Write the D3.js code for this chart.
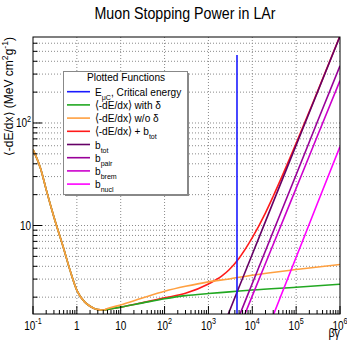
<!DOCTYPE html>
<html>
<head>
<meta charset="utf-8">
<script src="https://cdn.jsdelivr.net/npm/d3@7"></script>
<style>
  body { margin: 0; background: #fff; }
  svg { display: block; font-family: "Liberation Sans", Arial, Helvetica, sans-serif; }
</style>
</head>
<body>
<div id="chart"></div>
<script>
// values
const bgBethe = [0.1, 0.15, 0.2, 0.3, 0.5, 0.7, 1, 1.5, 2, 3, 4, 5, 10, 30, 100, 300, 1e3, 3e3, 1e4, 1e5, 1e6];
const dedxNoDelta = [55, 35.6, 22.4, 12.1, 5.97, 3.65, 2.33, 1.80, 1.63, 1.51, 1.50, 1.55, 1.68, 1.95, 2.28, 2.55, 2.82, 3.01, 3.27, 3.72, 4.17];
const dedxDelta = [55, 35.6, 22.4, 12.1, 5.97, 3.65, 2.33, 1.80, 1.63, 1.51, 1.50, 1.52, 1.60, 1.75, 1.93, 2.07, 2.17, 2.25, 2.35, 2.50, 2.67];

const bgTotal = [0.1, 0.15, 0.2, 0.3, 0.5, 0.7, 1, 1.5, 2, 3, 4, 5, 10, 30, 100, 300, 1e3, 2e3, 3e3, 5e3, 1e4, 2e4, 3e4, 1e5, 3e5, 1e6];
const dedxTotal = [55, 35.6, 22.4, 12.1, 5.97, 3.65, 2.33, 1.80, 1.63, 1.51, 1.50, 1.52, 1.60, 1.76, 1.97, 2.18, 2.69, 3.2, 3.72, 4.80, 7.6, 13.3, 19.3, 63.2, 198, 706];

const bgTot = [2e3, 5e3, 1e4, 3e4, 1e5, 3e5, 1e6];
const bTot = [0.94, 2.51, 5.24, 16.9, 60.7, 195, 703];
const bgPair = [3e3, 5e3, 1e4, 3e4, 1e5, 3e5, 1e6];
const bPair = [0.757, 1.30, 2.72, 8.73, 31.3, 101, 361];
const bgBrem = [3e3, 5e3, 1e4, 3e4, 1e5, 3e5, 1e6];
const bBrem = [0.578, 0.99, 2.06, 6.52, 23.1, 73.3, 259];
const bgNucl = [2e4, 3e4, 1e5, 3e5, 1e6];
const bNucl = [0.86, 1.33, 4.90, 16.1, 59.0];

const ecBg = 4480;
const ecRange = [1, 460];

const xMajor = [0.1, 1, 10, 1e2, 1e3, 1e4, 1e5, 1e6];
const xTickLabels = ["10^{-1}", "1", "10", "10^{2}", "10^{3}", "10^{4}", "10^{5}", "10^{6}"];
const yMajor = [10, 100];
const yTickLabels = ["10", "10^{2}"];

const legendLabels = ["E_{μC}, Critical energy", "⟨-dE/dx⟩ with δ", "⟨-dE/dx⟩ w/o δ", "⟨-dE/dx⟩ + b_{tot}",
                      "b_{tot}", "b_{pair}", "b_{brem}", "b_{nucl}"];
const legendColors = ["#1a1aff", "#22a822", "#ffa040", "#ff1a1a", "#660066", "#990099", "#cc00cc", "#ff00ff"];

const W = 347, H = 340;
const frame = {left: 33, right: 340, top: 37, bottom: 314};
const SQ = 0.88; // horizontal squeeze of text in the picture

const svg = d3.select("#chart").append("svg")
    .attr("width", W)
    .attr("height", H);

const x = d3.scaleLog().domain([0.1, 1e6]).range([frame.left, frame.right]);
const y = d3.scaleLog().domain([1.37, 690]).range([frame.bottom, frame.top]);

// write text with _{sub} and ^{sup} parts
function rich(textSel, str, size) {
    let cur = 0;
    str.split(/([_^]\{[^}]*\})/).filter(s => s.length).forEach(p => {
        let off = 0, fs = size, t = p;
        if (p[0] === "_") { off = size * 0.35; fs = size * 0.7; t = p.slice(2, -1); }
        else if (p[0] === "^") { off = -size * 0.45; fs = size * 0.72; t = p.slice(2, -1); }
        textSel.append("tspan").attr("dy", off - cur).style("font-size", fs + "px").text(t);
        cur = off;
    });
}

function label(px, py, str, size, anchor, sq) {
    const g = svg.append("g").attr("transform", `translate(${px},${py}) scale(${sq},1)`);
    const t = g.append("text").attr("text-anchor", anchor).style("font-size", size + "px").attr("fill", "#000");
    rich(t, str, size);
    return t;
}

// minor ticks
const xMinor = [];
xMajor.slice(0, -1).forEach(d => { for (let k = 2; k <= 9; k++) xMinor.push(d * k); });
const yTicks = y.ticks();

// grid
svg.append("g").selectAll("line.gy")
    .data(yTicks)
    .enter()
    .append("line")
    .attr("x1", frame.left).attr("x2", frame.right)
    .attr("y1", d => y(d)).attr("y2", d => y(d))
    .attr("stroke", "#8a8a8a")
    .attr("stroke-width", 1)
    .attr("stroke-dasharray", "1,2");

svg.append("g").selectAll("line.gx")
    .data(xMajor.slice(1, -1))
    .enter()
    .append("line")
    .attr("x1", d => x(d)).attr("x2", d => x(d))
    .attr("y1", frame.top).attr("y2", frame.bottom)
    .attr("stroke", "#8a8a8a")
    .attr("stroke-width", 1)
    .attr("stroke-dasharray", "1,2");

// curves
svg.append("clipPath").attr("id", "clip")
    .append("rect")
    .attr("x", frame.left).attr("y", frame.top)
    .attr("width", frame.right - frame.left).attr("height", frame.bottom - frame.top);

const plot = svg.append("g").attr("clip-path", "url(#clip)");

const line = d3.line()
    .x(d => x(d[0]))
    .y(d => y(d[1]))
    .curve(d3.curveMonotoneX);

const series = [
    {xs: bgTotal, ys: dedxTotal, color: legendColors[3]},
    {xs: bgBethe, ys: dedxDelta, color: legendColors[1]},
    {xs: bgBethe, ys: dedxNoDelta, color: legendColors[2]},
    {xs: bgTot, ys: bTot, color: legendColors[4]},
    {xs: bgPair, ys: bPair, color: legendColors[5]},
    {xs: bgBrem, ys: bBrem, color: legendColors[6]},
    {xs: bgNucl, ys: bNucl, color: legendColors[7]}
];

series.forEach(s => {
    plot.append("path")
        .datum(s.xs.map((v, i) => [v, s.ys[i]]))
        .attr("fill", "none")
        .attr("stroke", s.color)
        .attr("stroke-width", 1.6)
        .attr("d", line);
});

plot.append("line")
    .attr("x1", x(ecBg)).attr("x2", x(ecBg))
    .attr("y1", y(ecRange[0])).attr("y2", y(ecRange[1]))
    .attr("stroke", legendColors[0])
    .attr("stroke-width", 1.6);

// frame
svg.append("rect")
    .attr("x", frame.left).attr("y", frame.top)
    .attr("width", frame.right - frame.left).attr("height", frame.bottom - frame.top)
    .attr("fill", "none")
    .attr("stroke", "#000")
    .attr("stroke-width", 1);

// ticks
svg.append("g").selectAll("line")
    .data(xMajor.concat(xMinor))
    .enter()
    .append("line")
    .attr("x1", d => x(d)).attr("x2", d => x(d))
    .attr("y1", frame.bottom)
    .attr("y2", d => frame.bottom - (xMajor.includes(d) ? 8 : 4))
    .attr("stroke", "#000");

svg.append("g").selectAll("line")
    .data(yTicks)
    .enter()
    .append("line")
    .attr("x1", frame.left)
    .attr("x2", d => frame.left + (yMajor.includes(d) ? 9 : 4.5))
    .attr("y1", d => y(d)).attr("y2", d => y(d))
    .attr("stroke", "#000");

// tick labels
xMajor.forEach((d, i) => label(x(d), 330, xTickLabels[i], 12.5, "middle", 0.8));
yMajor.forEach((d, i) => label(31, y(d) + 4.5, yTickLabels[i], 12.5, "end", 0.8));

// titles
label(185, 19, "Muon Stopping Power in LAr", 16, "middle", 0.89);
label(340, 337, "βγ", 12, "end", 0.9);

const yt = svg.append("text")
    .attr("transform", `translate(13,${frame.top}) rotate(-90)`)
    .attr("text-anchor", "end")
    .style("font-size", "12px");
rich(yt, "⟨-dE/dx⟩ (MeV cm^{2}g^{-1})", 12);

// legend
const leg = {x: 63.5, y: 71.5, w: 124, h: 123};
svg.append("rect")
    .attr("x", leg.x + 1.5).attr("y", leg.y + 1.5)
    .attr("width", leg.w).attr("height", leg.h)
    .attr("fill", "#888");
svg.append("rect")
    .attr("x", leg.x).attr("y", leg.y)
    .attr("width", leg.w).attr("height", leg.h)
    .attr("fill", "#fff")
    .attr("stroke", "#888")
    .attr("stroke-width", 1);

label(126, 81, "Plotted Functions", 11.5, "middle", SQ);

legendLabels.forEach((txt, i) => {
    const cy = 91.7 + 13.2 * i;
    svg.append("line")
        .attr("x1", 67).attr("x2", 90)
        .attr("y1", cy).attr("y2", cy)
        .attr("stroke", legendColors[i])
        .attr("stroke-width", 1.6);
    label(95, cy + 4, txt, 11.5, "start", SQ);
});
</script>
</body>
</html>
